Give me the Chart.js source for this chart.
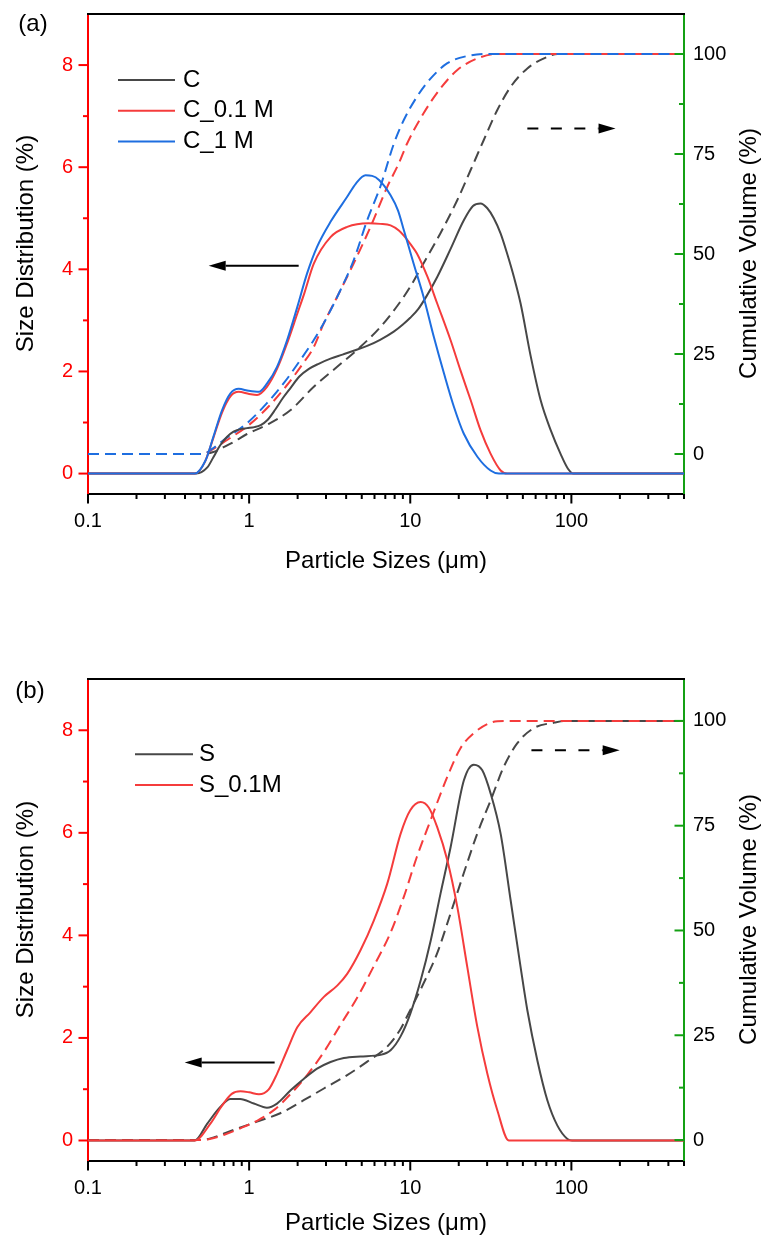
<!DOCTYPE html>
<html>
<head>
<meta charset="utf-8">
<script src="https://cdn.jsdelivr.net/npm/chart.js@4.4.0/dist/chart.umd.min.js"></script>
<style>
  html, body { margin: 0; padding: 0; background: #fff; }
  body { width: 763px; height: 1238px; position: relative; overflow: hidden; }
  .panel { position: absolute; left: 0; }
</style>
</head>
<body>
<div class="panel" style="top:0"><canvas id="chartA" width="763" height="610"></canvas></div>
<div class="panel" style="top:610px"><canvas id="chartB" width="763" height="628"></canvas></div>
<script>
// ---- Panel (a): [particle size (µm), value] ----
const distC = [[0.1,0],[0.47,0],[0.55,0.12],[0.6,0.32],[0.66,0.55],[0.73,0.72],[0.8,0.82],[0.88,0.87],[0.97,0.89],[1.08,0.91],[1.18,0.95],[1.3,1.05],[1.45,1.25],[1.62,1.48],[1.81,1.68],[2.05,1.9],[2.35,2.05],[2.7,2.15],[3.2,2.25],[3.8,2.33],[4.5,2.41],[5.4,2.5],[6.5,2.62],[7.9,2.78],[9.0,2.92],[10,3.05],[11.2,3.22],[12.6,3.47],[14.7,3.85],[17.8,4.4],[21.5,4.96],[24.5,5.24],[27.3,5.29],[30,5.2],[33,5.0],[36.4,4.7],[40,4.3],[44,3.85],[48.4,3.33],[55.9,2.3],[64.4,1.44],[74.4,0.85],[85.8,0.38],[95,0.1],[103,0],[500,0]];
const distC01 = [[0.1,0],[0.46,0],[0.53,0.22],[0.6,0.7],[0.68,1.2],[0.77,1.52],[0.86,1.6],[1.0,1.56],[1.12,1.54],[1.29,1.7],[1.49,2.05],[1.72,2.55],[1.99,3.13],[2.2,3.53],[2.52,4.11],[3.2,4.63],[4.06,4.83],[5.5,4.9],[6.5,4.89],[7.55,4.86],[8.5,4.76],[9.12,4.66],[10,4.5],[11,4.31],[12.8,3.85],[14.7,3.33],[17.8,2.61],[20.5,2.02],[23.7,1.44],[27.3,0.85],[31.5,0.39],[36.4,0.06],[40,0],[500,0]];
const distC1 = [[0.1,0],[0.46,0],[0.537,0.26],[0.6,0.72],[0.679,1.24],[0.766,1.57],[0.861,1.66],[0.995,1.62],[1.15,1.6],[1.29,1.76],[1.49,2.09],[1.72,2.61],[1.99,3.26],[2.29,3.92],[2.64,4.44],[3.2,4.93],[4.06,5.42],[4.6,5.68],[5.28,5.84],[5.8,5.83],[6.4,5.75],[7.55,5.45],[8.4,5.15],[9.12,4.77],[10.5,4.11],[12.1,3.46],[14.0,2.68],[16.2,1.96],[18.7,1.3],[21.5,0.78],[26.1,0.33],[31.5,0.06],[35.5,0],[500,0]];
const cumC = [[0.1,0],[0.5,0],[0.6,0.5],[0.7,1.8],[0.8,3.0],[0.97,5.0],[1.29,7.3],[1.81,11],[2.52,16.8],[3.52,21.8],[4.91,26.8],[6.54,31.8],[8.3,37],[10,41.8],[12.1,47.7],[15.4,55.2],[19.6,63.5],[23.7,71],[28.6,78.5],[34.7,86],[42,91.8],[53.3,96.4],[71,99.3],[82,100],[500,100]];
const cumC01 = [[0.1,0],[0.5,0],[0.54,0.2],[0.6,1.3],[0.71,3.2],[1.0,7.3],[1.33,12],[1.7,17],[2.15,22.5],[2.5,26.5],[2.91,32.7],[3.52,39.3],[4.46,47.7],[5.67,56.8],[7.2,66.8],[8.5,72.7],[9.58,77.7],[12.1,85.2],[15.4,91.4],[19.6,96],[26.1,98.9],[34.7,100],[500,100]];
const cumC1 = [[0.1,0],[0.5,0],[0.537,0.2],[0.6,1.5],[0.695,3.5],[0.97,7.7],[1.29,12.7],[1.64,17.7],[2.08,23.5],[2.52,28.5],[3.05,34.3],[3.69,41],[4.46,48.5],[5.41,58.5],[6.54,67],[7.9,77.5],[9.12,83.5],[11,89.3],[13.4,93.9],[17,97.7],[22.6,99.5],[30.1,100],[500,100]];

// ---- Panel (b): [particle size (µm), value] ----
const distS = [[0.1,0],[0.46,0],[0.55,0.33],[0.66,0.65],[0.765,0.81],[0.88,0.81],[1.07,0.72],[1.29,0.64],[1.49,0.72],[1.81,0.98],[2.18,1.2],[2.64,1.4],[3.2,1.53],[3.87,1.61],[4.91,1.64],[6.54,1.67],[7.55,1.76],[8.71,2.03],[10,2.47],[11.6,3.12],[13.4,3.9],[15.4,4.81],[17.8,5.72],[21.5,7.02],[24.8,7.33],[28,7.22],[31.6,6.76],[36.4,5.98],[42,4.68],[48.4,3.38],[53.3,2.54],[61.5,1.56],[71,0.78],[81.9,0.29],[94.5,0.03],[101,0],[500,0]];
const distS01 = [[0.1,0],[0.46,0],[0.575,0.33],[0.679,0.68],[0.78,0.91],[0.883,0.96],[1.0,0.94],[1.15,0.9],[1.32,0.99],[1.49,1.3],[1.72,1.76],[1.99,2.21],[2.4,2.5],[2.91,2.8],[3.52,3.02],[4.06,3.25],[4.91,3.71],[5.94,4.29],[7.2,5.01],[8.71,5.98],[10,6.44],[11.6,6.6],[13.05,6.49],[14.7,6.11],[17,5.46],[19.6,4.55],[22.6,3.38],[26.1,2.21],[30.1,1.3],[34.7,0.59],[40.9,0],[500,0]];
const cumS = [[0.1,0],[0.5,0],[0.575,0.4],[0.8,2.4],[1.12,4.4],[1.56,6.4],[2.18,9.5],[2.91,12.3],[4.06,15.5],[5.41,18.7],[7.2,22.3],[8.71,26.5],[9.58,29.6],[12.1,37.4],[14.7,44.6],[17.8,54.1],[21.5,63.7],[26.1,73.2],[31.6,81.1],[38.1,89.1],[46.2,94.7],[58.6,98.3],[78.5,99.6],[91,100],[500,100]];
const cumS01 = [[0.1,0],[0.5,0],[0.56,0.2],[0.695,1.2],[0.883,2.8],[1.12,4.6],[1.43,7.2],[1.81,11],[2.29,15.5],[2.91,21],[3.69,27.5],[4.69,34],[5.94,41.5],[7.55,49.5],[9.12,58],[11,67.6],[13.4,76.4],[17,86.7],[20.5,93.5],[24.8,97.1],[31.6,99.6],[38,100],[500,100]];

// ---- Tick values ----
const sizeTicks = [0.1, 1, 10, 100];
const sizeMinorTicks = [0.2,0.3,0.4,0.5,0.6,0.7,0.8,0.9,2,3,4,5,6,7,8,9,20,30,40,50,60,70,80,90,200,300,400,500];
const distTicks = [0, 2, 4, 6, 8];
const distMinorTicks = [1, 3, 5, 7];
const cumTicks = [0, 25, 50, 75, 100];
const cumMinorTicks = [12.5, 37.5, 62.5, 87.5];

const FONT = "'Liberation Sans', Arial, Helvetica, sans-serif";
const GREY = '#474747', RED = '#f53c3c', BLUE = '#1e6ee0';
const AXIS_RED = '#ff0000', AXIS_GREEN = '#14a014';

function drawArrow(ctx, x0, y0, x1, y1, dashed) {
  const head = 17, half = 5;
  const dir = Math.sign(x1 - x0);
  ctx.save();
  ctx.strokeStyle = '#000'; ctx.fillStyle = '#000'; ctx.lineWidth = 2;
  ctx.setLineDash(dashed ? [11, 12.5] : []);
  ctx.beginPath(); ctx.moveTo(x0, y0); ctx.lineTo(x1 - dir * head, y1); ctx.stroke();
  ctx.setLineDash([]);
  ctx.beginPath();
  ctx.moveTo(x1, y1);
  ctx.lineTo(x1 - dir * head, y1 - half);
  ctx.lineTo(x1 - dir * head, y1 + half);
  ctx.closePath(); ctx.fill();
  ctx.restore();
}

const decorations = {
  id: 'decorations',
  afterDraw(chart, args, o) {
    const { ctx, chartArea: a } = chart;
    const { x, y, y2 } = chart.scales;
    ctx.save();
    // frame top line
    ctx.lineWidth = 2; ctx.strokeStyle = '#000';
    ctx.beginPath(); ctx.moveTo(a.left - 1, a.top); ctx.lineTo(a.right + 1, a.top); ctx.stroke();

    const hTick = (scale, vals, x0, x1) => vals.forEach(v => {
      const p = scale.getPixelForValue(v);
      ctx.beginPath(); ctx.moveTo(x0, p); ctx.lineTo(x1, p); ctx.stroke();
    });
    // left axis ticks (outward)
    ctx.strokeStyle = AXIS_RED;
    hTick(y, distTicks, a.left - 9.5, a.left);
    hTick(y, distMinorTicks, a.left - 5, a.left);
    // right axis ticks (inward)
    ctx.strokeStyle = AXIS_GREEN;
    hTick(y2, cumTicks, a.right - 9.5, a.right);
    hTick(y2, cumMinorTicks, a.right - 5, a.right);
    // bottom axis ticks (outward)
    ctx.strokeStyle = '#000';
    const vTick = (vals, len) => vals.forEach(v => {
      const p = x.getPixelForValue(v);
      ctx.beginPath(); ctx.moveTo(p, a.bottom); ctx.lineTo(p, a.bottom + len); ctx.stroke();
    });
    vTick(sizeTicks, 9.5);
    vTick(sizeMinorTicks, 5);

    // axis titles
    ctx.fillStyle = '#000';
    ctx.font = '24px ' + FONT;
    ctx.textAlign = 'center'; ctx.textBaseline = 'middle';
    ctx.fillText('Particle Sizes (\u03bcm)', (a.left + a.right) / 2, a.bottom + o.xTitleOffset);
    const mid = (a.top + a.bottom) / 2;
    ctx.save(); ctx.translate(26, mid - 10.5); ctx.rotate(-Math.PI / 2);
    ctx.fillText('Size Distribution (%)', 0, 0); ctx.restore();
    ctx.save(); ctx.translate(749, mid - 0.5); ctx.rotate(-Math.PI / 2);
    ctx.fillText('Cumulative Volume (%)', 0, 0); ctx.restore();

    // panel letter
    ctx.fillText(o.panel, o.panelX, a.top + o.panelDy);

    // legend
    ctx.textAlign = 'left';
    o.legend.forEach((item, i) => {
      const ly = a.top + o.legendTop + i * o.legendStep;
      ctx.strokeStyle = item.color; ctx.lineWidth = 2;
      ctx.beginPath(); ctx.moveTo(a.left + o.legendX0, ly); ctx.lineTo(a.left + o.legendX1, ly); ctx.stroke();
      ctx.fillStyle = '#000';
      ctx.fillText(item.label, a.left + o.legendTextX, ly);
    });

    // direction arrows (data coordinates)
    o.arrows.forEach(ar => {
      const sc = chart.scales[ar.axis];
      const py = sc.getPixelForValue(ar.y);
      drawArrow(ctx, x.getPixelForValue(ar.from), py, x.getPixelForValue(ar.to), py, ar.dashed);
    });
    ctx.restore();
  }
};

function series(data, color, axis, dashed) {
  return {
    data: data.map(([sx, sy]) => ({ x: sx, y: sy })),
    borderColor: color,
    borderWidth: 2,
    borderDash: dashed ? [11, 6] : [],
    yAxisID: axis,
    pointRadius: 0,
    fill: false,
    cubicInterpolationMode: 'monotone'
  };
}

function makeChart(id, datasets, cfg) {
  const fixTicks = vals => scale => { scale.ticks = vals.map(v => ({ value: v })); };
  const vertFit = w => s => { s.width = w; s.paddingTop = 0; s.paddingBottom = 0; };
  return new Chart(document.getElementById(id), {
    type: 'line',
    data: { datasets },
    plugins: [decorations],
    options: {
      responsive: false,
      animation: false,
      layout: { padding: { top: cfg.top, left: 0, right: 0, bottom: 0 } },
      plugins: {
        legend: { display: false },
        tooltip: { enabled: false },
        decorations: cfg.deco
      },
      scales: {
        x: {
          type: 'logarithmic', min: 0.1, max: 500,
          afterBuildTicks: fixTicks(sizeTicks),
          afterFit: s => { s.height = cfg.xHeight; s.paddingLeft = 0; s.paddingRight = 0; },
          grid: { display: false, drawTicks: false },
          border: { display: true, color: '#000', width: 2 },
          ticks: {
            autoSkip: false, maxRotation: 0, padding: 15, color: '#000',
            font: { family: FONT, size: 20 },
            callback: v => String(v)
          }
        },
        y: {
          type: 'linear', position: 'left', min: -0.4, max: 9,
          afterBuildTicks: fixTicks(distTicks),
          afterFit: vertFit(88),
          grid: { display: false, drawTicks: false },
          border: { display: true, color: AXIS_RED, width: 2 },
          ticks: { padding: 15, color: AXIS_RED, font: { family: FONT, size: 20 } }
        },
        y2: {
          type: 'linear', position: 'right', min: cfg.cumMin, max: 110,
          afterBuildTicks: fixTicks(cumTicks),
          afterFit: vertFit(79),
          grid: { display: false, drawTicks: false },
          border: { display: true, color: AXIS_GREEN, width: 2 },
          ticks: { padding: 9, color: '#000', font: { family: FONT, size: 20 } }
        }
      }
    }
  });
}

makeChart('chartA', [
  series(distC1, BLUE, 'y'), series(distC01, RED, 'y'), series(distC, GREY, 'y'),
  series(cumC1, BLUE, 'y2', true), series(cumC01, RED, 'y2', true), series(cumC, GREY, 'y2', true)
], {
  top: 14, xHeight: 116, cumMin: -10,
  deco: {
    xTitleOffset: 67, panel: '(a)', panelX: 33, panelDy: 10.5,
    legend: [{ label: 'C', color: GREY }, { label: 'C_0.1 M', color: RED }, { label: 'C_1 M', color: BLUE }],
    legendTop: 66, legendStep: 30.8, legendX0: 30, legendX1: 87, legendTextX: 95,
    arrows: [
      { axis: 'y', y: 4.07, from: 2.03, to: 0.561, dashed: false },
      { axis: 'y2', y: 81.4, from: 53.3, to: 188, dashed: true }
    ]
  }
});

makeChart('chartB', [
  series(distS01, RED, 'y'), series(distS, GREY, 'y'),
  series(cumS01, RED, 'y2', true), series(cumS, GREY, 'y2', true)
], {
  top: 69, xHeight: 77, cumMin: -5,
  deco: {
    xTitleOffset: 62, panel: '(b)', panelX: 30, panelDy: 12.5,
    legend: [{ label: 'S', color: GREY }, { label: 'S_0.1M', color: RED }],
    legendTop: 75.3, legendStep: 30.7, legendX0: 47, legendX1: 105, legendTextX: 111,
    arrows: [
      { axis: 'y', y: 1.52, from: 1.44, to: 0.398, dashed: false },
      { axis: 'y2', y: 93.0, from: 56.5, to: 199.5, dashed: true }
    ]
  }
});
</script>
</body>
</html>
